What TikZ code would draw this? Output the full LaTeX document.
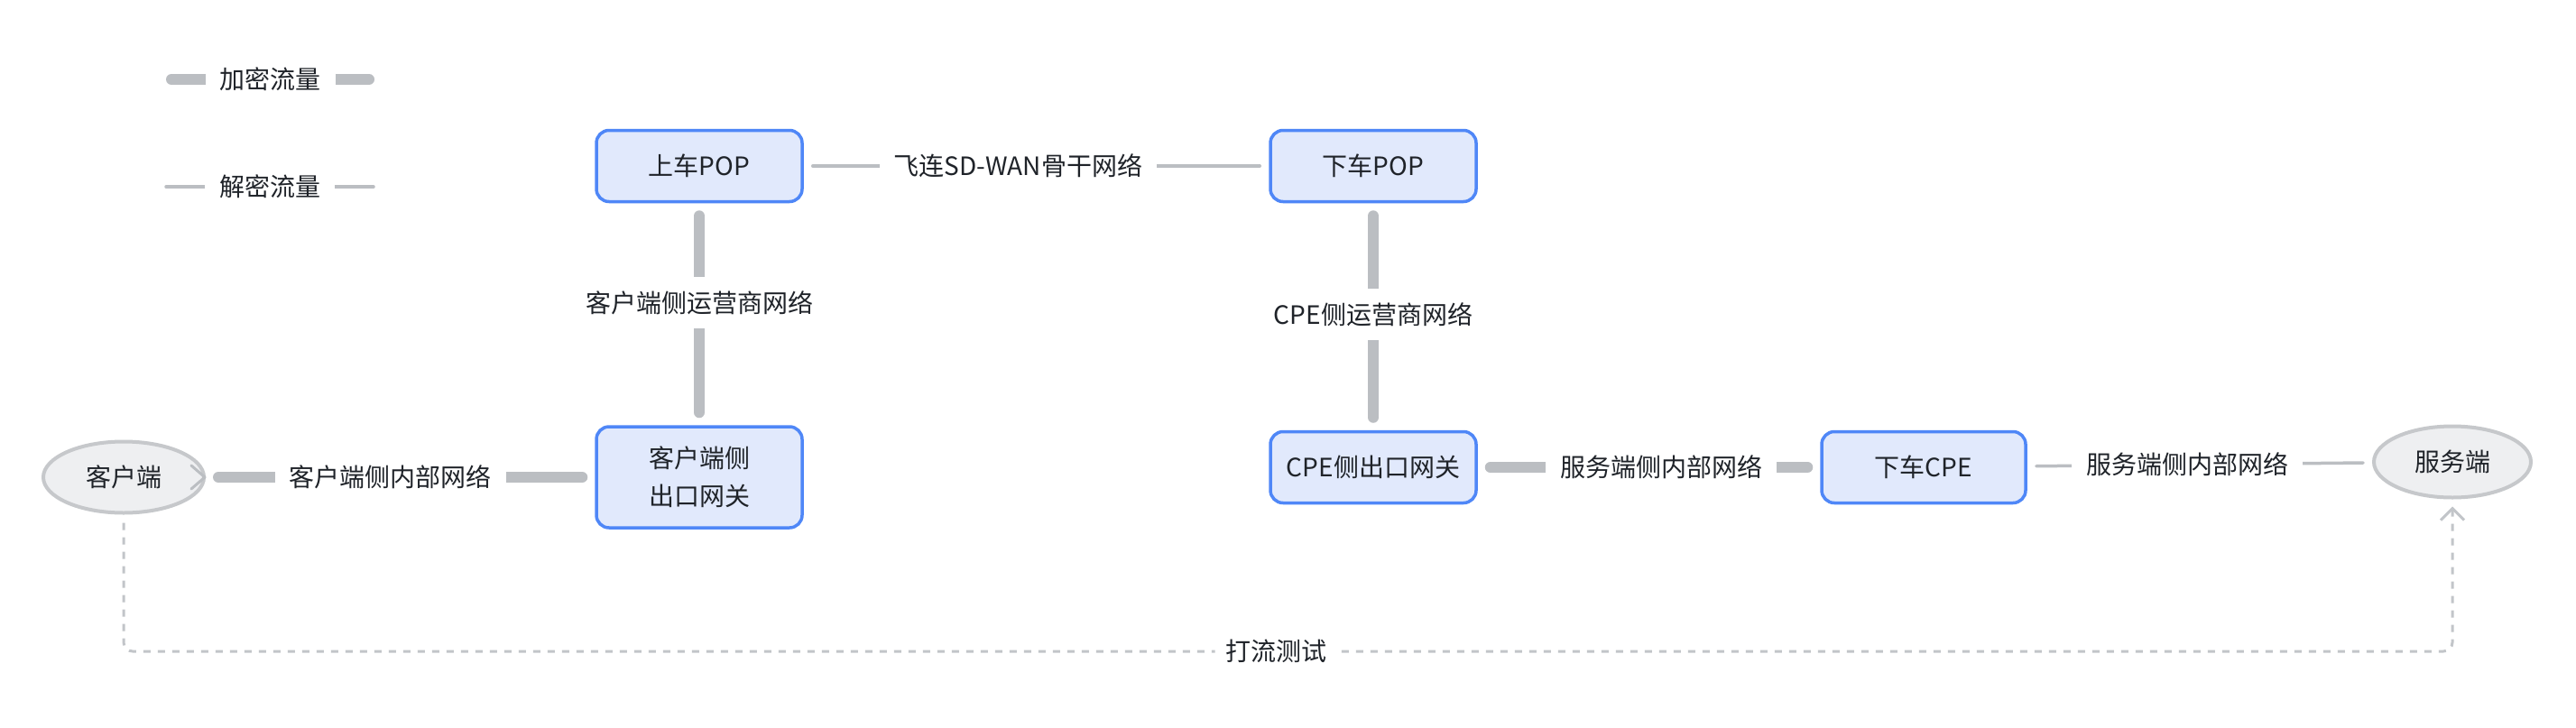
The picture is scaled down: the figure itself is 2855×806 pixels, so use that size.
\documentclass[tikz,border=0pt]{standalone}
\usepackage{fontspec}
\setmainfont{Noto Sans CJK SC}
\usetikzlibrary{arrows.meta,calc,shapes.geometric}
\definecolor{boxfill}{HTML}{E1E9FC}
\definecolor{boxdraw}{HTML}{4F87F7}
\definecolor{ellfill}{HTML}{EEEFF1}
\definecolor{elldraw}{HTML}{C6C8CB}
\definecolor{linec}{HTML}{BBBEC2}
\definecolor{dashc}{HTML}{C2C5C9}
\definecolor{txt}{HTML}{1F2329}
\tikzset{
  base/.style={font=\fontsize{28}{42}\selectfont, text=txt},
  box/.style={base, draw=boxdraw, fill=boxfill, line width=3.5pt, rounded corners=14pt,
    minimum width=228pt, minimum height=79pt, inner sep=0pt, align=center},
  ell/.style={base, ellipse, draw=elldraw, fill=ellfill, line width=4pt, inner sep=0pt,
    minimum width=176pt, minimum height=79pt},
  lab/.style={base, fill=white, inner xsep=16pt, inner ysep=15pt},
  thickline/.style={draw=linec, line width=12pt, line cap=round, shorten <=14pt, shorten >=14pt},
  thinline/.style={draw=linec, line width=3.5pt, line cap=round, shorten <=10pt, shorten >=10pt},
  testline/.style={draw=dashc, line width=3pt, dash pattern=on 8pt off 8pt, rounded corners=10pt},
}
\begin{document}
\begin{tikzpicture}[x=1pt,y=-1pt]
\useasboundingbox (0,0) rectangle (2855,806);
\fill[white] (0,0) rectangle (2855,806);

% legend
\draw[draw=linec, line width=12pt, line cap=round] (190,88) -- (409,88)
  node[lab, midway] (enc) {加密流量};
\draw[draw=linec, line width=3.5pt, line cap=round] (184,207) -- (414,207)
  node[lab, midway] (dec) {解密流量};

% nodes
\node[box] (up) at (775,184) {上车POP};
\node[box] (down) at (1522,184) {下车POP};
\node[box, minimum height=112pt] (cgw) at (775,529) {客户端侧\\出口网关};
\node[box] (cpegw) at (1522,518) {CPE侧出口网关};
\node[box, minimum width=226pt] (xcpe) at (2132,518) {下车CPE};
\node[ell, minimum width=178pt] (kh) at (137,529) {客户端};
\node[ell, minimum width=174pt] (fw) at (2718,512) {服务端};

% connectors
\draw[thickline] (kh) -- (cgw) node[lab, pos=0.475] (l1) {客户端侧内部网络};
\draw[thickline] (cgw) -- (up) node[lab, pos=0.552] (l2) {客户端侧运营商网络};
\draw[thinline] (up) -- (down) node[lab, pos=0.461] (l3) {飞连SD-WAN骨干网络};
\draw[thickline] (down) -- (cpegw) node[lab, pos=0.49] (l4) {CPE侧运营商网络};
\draw[thickline] (cpegw) -- (xcpe) node[lab, pos=0.536] (l5) {服务端侧内部网络};
\draw[thinline] (xcpe) -- (fw) node[lab, pos=0.464] (l6) {服务端侧内部网络};

% small chevron at client
\draw[draw=linec, line width=3pt, line cap=round, line join=round]
  ($(kh.east)+(-16,-13)$) -- ($(kh.east)+(-1,0)$) -- ($(kh.east)+(-16,13)$);

% test path
\coordinate (tl) at (kh.south |- 0,722);
\coordinate (tr) at (fw.south |- 0,722);
\draw[testline, shorten <=9pt, shorten >=8pt,
  -{Straight Barb[length=13pt,width=26pt,line width=3pt]}]
  (kh.south) -- (tl) -- node[lab, pos=0.495, inner xsep=12pt] (l7) {打流测试} (tr) -- (fw.south);
\end{tikzpicture}
\end{document}
